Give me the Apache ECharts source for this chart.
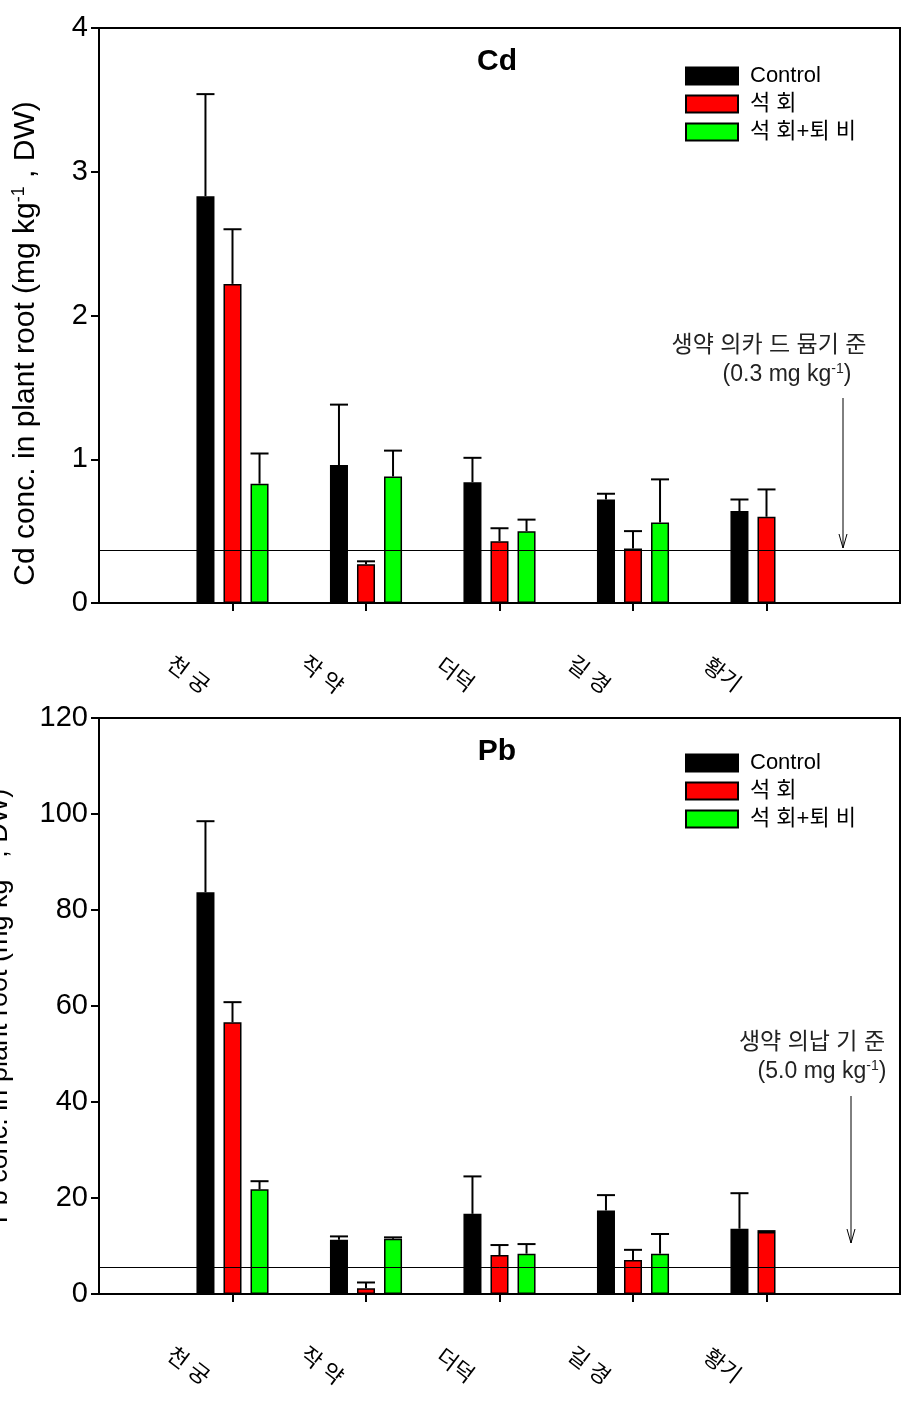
<!DOCTYPE html>
<html><head><meta charset="utf-8">
<script src="https://cdn.jsdelivr.net/npm/echarts@6/dist/echarts.min.js"></script>
<style>html,body{margin:0;padding:0;background:#fff}#c{width:913px;height:1404px}</style>
</head><body><div id="c"></div>
<script>
// ---- data ----
const categories = ['천 궁', '작 약', '더덕', '길 경', '황기'];
const seriesNames = ['Control', '석 회', '석 회+퇴 비'];
const cdControl     = [2.83, 0.96, 0.84, 0.72, 0.64];
const cdControlErr  = [0.71, 0.42, 0.17, 0.04, 0.08];
const cdLime        = [2.22, 0.27, 0.43, 0.38, 0.60];
const cdLimeErr     = [0.38, 0.02, 0.09, 0.12, 0.19];
const cdCompost     = [0.83, 0.88, 0.50, 0.56, null];
const cdCompostErr  = [0.21, 0.18, 0.08, 0.30, null];
const pbControl     = [83.7, 11.3, 16.7, 17.4, 13.6];
const pbControlErr  = [14.8, 0.7, 7.8, 3.2, 7.4];
const pbLime        = [56.6, 1.2, 8.1, 7.1, 12.9];
const pbLimeErr     = [4.2, 1.2, 2.1, 2.1, 0.2];
const pbCompost     = [21.8, 11.5, 8.4, 8.4, null];
const pbCompostErr  = [1.7, 0.3, 2.0, 4.1, null];
const cdLimit = 0.37;
const pbLimit = 5.6;
const cdTicks = { min: 0, max: 4, interval: 1 };
const pbTicks = { min: 0, max: 120, interval: 20 };

// ---- chart ----
const FONT = '"Liberation Sans", Arial, "Noto Sans CJK KR", sans-serif';
const colors = ['#000000', '#ff0000', '#00ff00'];
const axisCats = [''].concat(categories, ['']);
const pad = a => [null].concat(a, [null]);

function errRender(k) {
  return function (params, api) {
    const m = api.value(1), e = api.value(2);
    if (m == null || isNaN(m)) return;
    const i = api.value(0);
    const band = api.size([1, 0])[0];
    const off = (k - 1) * band * 0.2025;
    const bw = band * 0.135;
    const p0 = api.coord([i, m]);
    const p1 = api.coord([i, m + e]);
    const x = p0[0] + off;
    return { type: 'group', children: [
      { type: 'line', shape: { x1: x, y1: p0[1], x2: x, y2: p1[1] }, style: { stroke: '#000', lineWidth: 2 } },
      { type: 'line', shape: { x1: x - bw / 2, y1: p1[1], x2: x + bw / 2, y2: p1[1] }, style: { stroke: '#000', lineWidth: 2 } }
    ]};
  };
}

function errData(vals, errs) {
  return vals.map((v, j) => [j + 1, v, errs[j]]).filter(d => d[1] != null);
}

function makeSeries(g, vals, errs, limit) {
  const out = [];
  vals.forEach((v, k) => {
    const s = {
      type: 'bar', name: seriesNames[k], xAxisIndex: g, yAxisIndex: g,
      data: pad(v), barWidth: '13.5%', barGap: '50%',
      itemStyle: { color: colors[k], borderColor: '#000', borderWidth: 1.5 },
      emphasis: { disabled: true }, animation: false
    };
    if (k === 0) {
      s.markLine = { silent: true, symbol: 'none', animation: false,
        label: { show: false }, lineStyle: { color: '#000', width: 1, type: 'solid' },
        data: [{ yAxis: limit }] };
    }
    out.push(s);
  });
  vals.forEach((v, k) => {
    out.push({ type: 'custom', xAxisIndex: g, yAxisIndex: g, z: 5,
      renderItem: errRender(k), data: errData(v, errs[k]), animation: false, silent: true });
  });
  return out;
}

function xAxisCfg(g) {
  return { type: 'category', gridIndex: g, data: axisCats, boundaryGap: false,
    axisLine: { lineStyle: { color: '#000', width: 2 } },
    axisTick: { show: true, length: 8, lineStyle: { color: '#000', width: 2 },
      interval: (i) => i >= 1 && i <= 5 },
    axisLabel: { show: false }, splitLine: { show: false } };
}
function yAxisCfg(g, t, label, gap, fs, shift) {
  return { type: 'value', gridIndex: g, min: t.min, max: t.max, interval: t.interval,
    axisLine: { show: true, lineStyle: { color: '#000', width: 2 } },
    axisTick: { show: true, length: 8, lineStyle: { color: '#000', width: 2 } },
    axisLabel: { color: '#000', fontSize: 29, fontFamily: FONT, margin: 11 },
    splitLine: { show: false },
    name: '{a|' + label + ' conc. in plant root (mg kg}{s|-1}{a| , DW)}',
    nameLocation: 'middle', nameGap: gap, nameRotate: 90,
    nameTextStyle: { padding: [0, shift, 0, 0], rich: {
      a: { fontSize: fs, fontFamily: FONT, color: '#000' },
      s: { fontSize: Math.round(fs * 0.6), fontFamily: FONT, color: '#000', padding: [0, 0, Math.round(fs * 0.48), 0] } } } };
}
function legendCfg(top) {
  return { orient: 'vertical', left: 685, top: top, itemWidth: 52, itemHeight: 17, itemGap: 6,
    padding: 0, icon: 'rect', data: seriesNames, selectedMode: false,
    textStyle: { fontSize: 22, lineHeight: 17, fontFamily: FONT, color: '#000', padding: [0, 0, 0, 7] } };
}

const chart = echarts.init(document.getElementById('c'), null, { renderer: 'canvas' });
const option = {
  backgroundColor: '#fff',
  animation: false,
  grid: [
    { left: 99, top: 28, width: 801, height: 575, show: true, borderColor: '#000', borderWidth: 2,
      containLabel: false, outerBoundsMode: 'none' },
    { left: 99, top: 718, width: 801, height: 576, show: true, borderColor: '#000', borderWidth: 2,
      containLabel: false, outerBoundsMode: 'none' }
  ],
  xAxis: [xAxisCfg(0), xAxisCfg(1)],
  yAxis: [yAxisCfg(0, cdTicks, 'Cd', 57, 30, 56), yAxisCfg(1, pbTicks, 'Pb', 85, 27, 0)],
  legend: [legendCfg(65), legendCfg(752)],
  series: makeSeries(0, [cdControl, cdLime, cdCompost], [cdControlErr, cdLimeErr, cdCompostErr], cdLimit)
    .concat(makeSeries(1, [pbControl, pbLime, pbCompost], [pbControlErr, pbLimeErr, pbCompostErr], pbLimit))
};
chart.setOption(option);

// ---- text / annotations ----
const g = [];
[0, 1].forEach(gi => {
  categories.forEach((c, j) => {
    const p = chart.convertToPixel({ gridIndex: gi }, [j + 1, 0]);
    g.push({ type: 'text', x: p[0] - 45, y: p[1] + 73, rotation: -0.65, silent: true,
      style: { text: c, font: '22px ' + FONT, fill: '#000', align: 'center', verticalAlign: 'middle' } });
  });
});
const rich = { a: { fontSize: 23, fontFamily: FONT, fill: '#222' }, s: { fontSize: 14, fontFamily: FONT, fill: '#222', padding: [0, 0, 11, 0] } };
g.push({ type: 'text', x: 497, y: 62, silent: true, style: { text: 'Cd', font: 'bold 30px ' + FONT, fill: '#000', align: 'center', verticalAlign: 'middle' } });
g.push({ type: 'text', x: 497, y: 752, silent: true, style: { text: 'Pb', font: 'bold 30px ' + FONT, fill: '#000', align: 'center', verticalAlign: 'middle' } });
g.push({ type: 'text', x: 769, y: 346, silent: true, style: { text: '생약 의카 드 뮴기 준', font: '23px ' + FONT, fill: '#222', align: 'center', verticalAlign: 'middle' } });
g.push({ type: 'text', x: 787, y: 375, silent: true, style: { text: '{a|(0.3 mg kg}{s|-1}{a|)}', rich: rich, align: 'center', verticalAlign: 'middle' } });
g.push({ type: 'text', x: 812, y: 1043, silent: true, style: { text: '생약 의납 기 준', font: '23px ' + FONT, fill: '#222', align: 'center', verticalAlign: 'middle' } });
g.push({ type: 'text', x: 822, y: 1072, silent: true, style: { text: '{a|(5.0 mg kg}{s|-1}{a|)}', rich: rich, align: 'center', verticalAlign: 'middle' } });
function arrow(x, y1, y2) {
  g.push({ type: 'line', silent: true, shape: { x1: x, y1: y1, x2: x, y2: y2 }, style: { stroke: '#000', lineWidth: 1 } });
  g.push({ type: 'polyline', silent: true, shape: { points: [[x - 4, y2 - 14], [x, y2], [x + 4, y2 - 14]] }, style: { stroke: '#000', lineWidth: 1, fill: null } });
}
arrow(843, 398, 548);
arrow(851, 1096, 1243);
chart.setOption({ graphic: g });
</script>
</body></html>
